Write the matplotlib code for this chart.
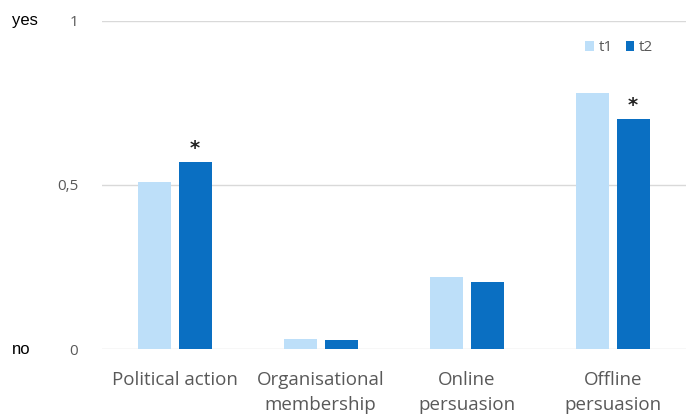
import matplotlib.pyplot as plt
import numpy as np

categories = ["Political action", "Organisational\nmembership", "Online\npersuasion", "Offline\npersuasion"]
t1 = [0.51, 0.03, 0.22, 0.78]
t2 = [0.57, 0.028, 0.205, 0.70]
significant = [True, False, False, True]

light = "#bddff9"
dark = "#0a6fc2"
grey = "#595959"

fig = plt.figure(figsize=(6.87, 4.16), dpi=100)
ax = fig.add_axes([0.148, 0.161, 0.85, 0.789])

x = np.arange(len(categories))
w = 0.226
off = 0.14
ax.bar(x - off, t1, w, color=light, label="t1", zorder=2)
ax.bar(x + off, t2, w, color=dark, label="t2", zorder=2)

# significance markers over t2
for xi, v, s in zip(x, t2, significant):
    if s:
        ax.text(xi + off, v + 0.012, "*", ha="center", va="bottom", fontsize=14,
                fontweight="bold", color="#222222")

ax.set_xlim(-0.5, 3.5)
ax.set_ylim(0, 1)
ax.set_yticks([0, 0.5, 1])
ax.set_yticklabels(["0", "0,5", "1"], family="Open Sans", fontsize=11, color=grey)
ax.yaxis.grid(True, color="#d9d9d9", lw=1, zorder=0)
ax.set_xticks(x)
ax.set_xticklabels(categories, family="Open Sans", fontsize=13.5, color=grey, linespacing=1.45)
ax.tick_params(axis="both", length=0)
ax.tick_params(axis="y", pad=17)
ax.tick_params(axis="x", pad=16)
for sp in ax.spines.values():
    sp.set_visible(False)

fig.text(12 / 687, 1 - 21 / 416, "yes", fontsize=12, family="Liberation Sans", va="center", ha="left")
fig.text(12 / 687, 1 - 350 / 416, "no", fontsize=12, family="Liberation Sans", va="center", ha="left")

leg = ax.legend(loc="center right", bbox_to_anchor=(0.945, 0.918), ncol=2, frameon=False,
                borderaxespad=0, borderpad=0,
                handlelength=0.55, handleheight=0.6, handletextpad=0.35, columnspacing=0.8,
                prop={"family": "Open Sans", "size": 11})
for t in leg.get_texts():
    t.set_color(grey)

fig.savefig("out.png", dpi=100)
